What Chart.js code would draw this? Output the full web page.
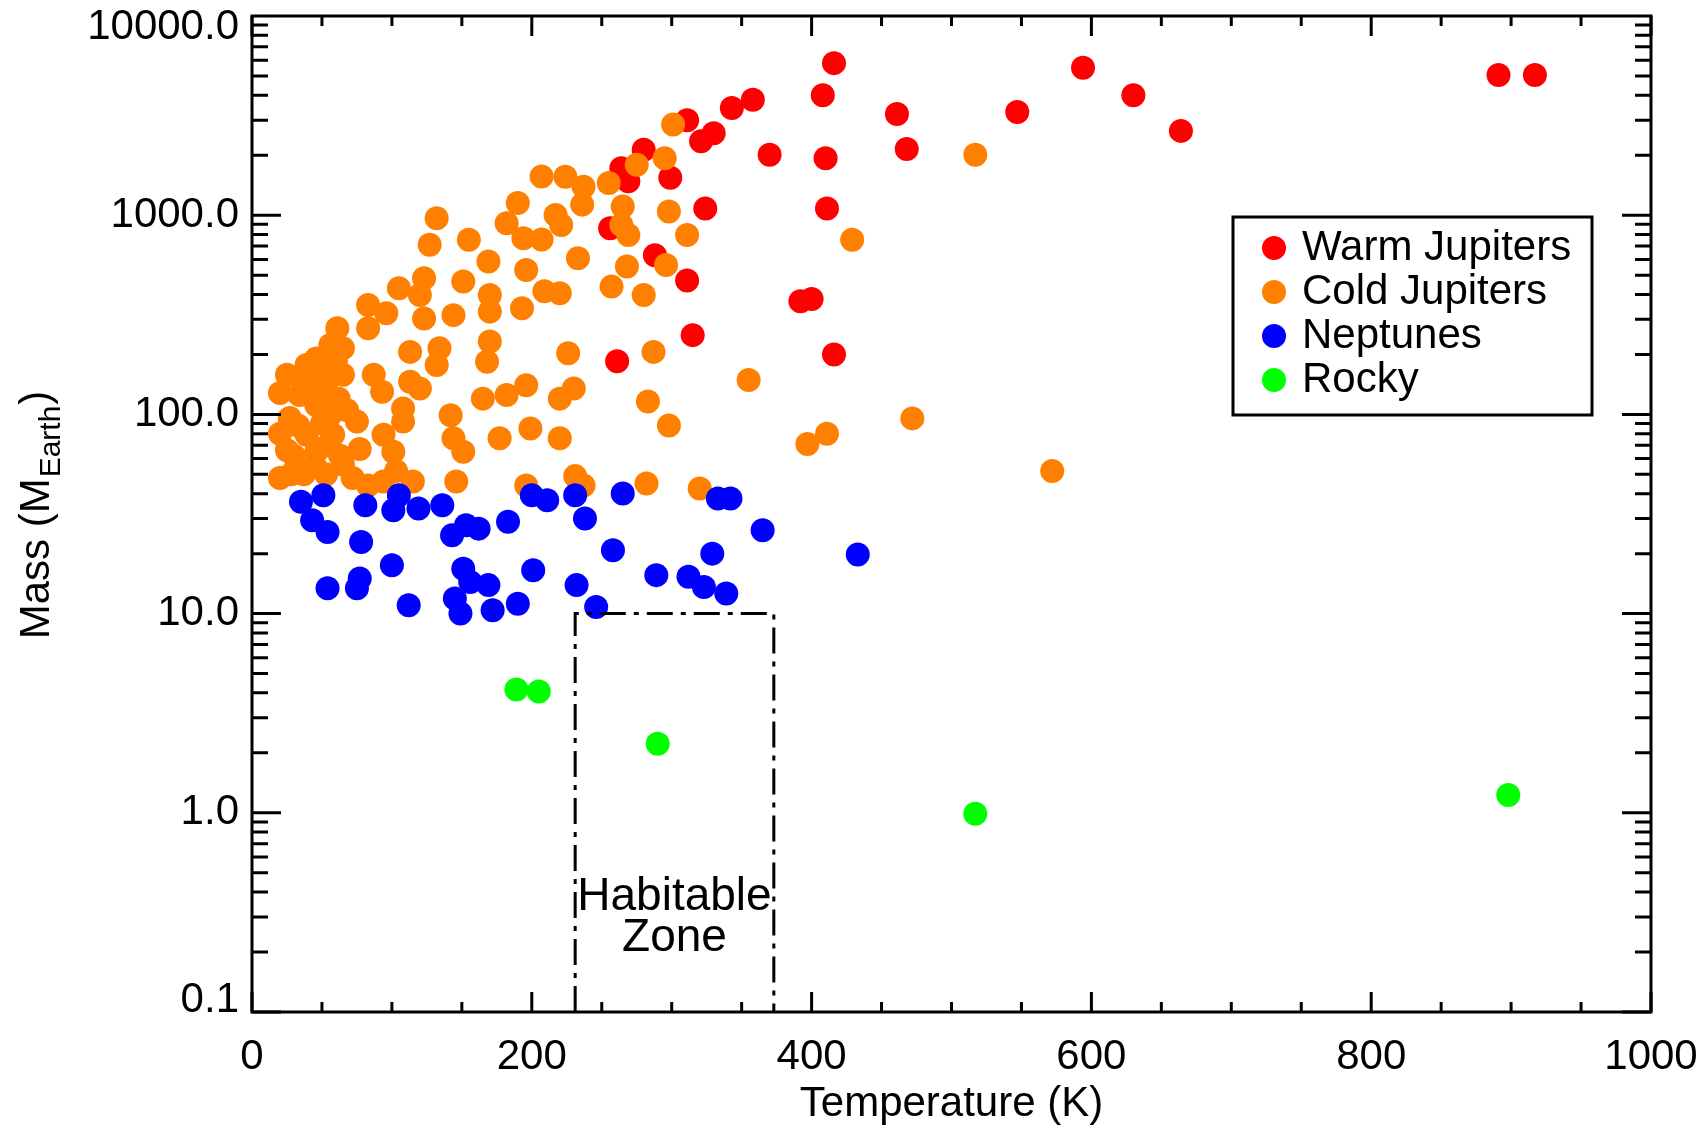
<!DOCTYPE html>
<html><head><meta charset="utf-8">
<script src="https://cdn.jsdelivr.net/npm/chart.js@4.4.0/dist/chart.umd.min.js"></script>
<style>html,body{margin:0;padding:0;background:#fff;}canvas{display:block;}</style>
</head><body>
<canvas id="c" width="1703" height="1130"></canvas>
<script>
// ---------------- data ----------------
const seriesNames = ['Warm Jupiters', 'Cold Jupiters', 'Neptunes', 'Rocky'];

const warmT = [416,408,358,343,311,321,330,280,264,269,299,370,410,324,411,256,288,311,392,400,315,261,416,461,468,547,594,630,664,891,917];
const warmM = [5800,4000,3800,3450,3000,2350,2580,2130,1720,1480,1540,2010,1930,1080,1080,860,630,470,370,380,250,185,200,3220,2150,3300,5500,4000,2650,5050,5050];

const coldT = [207,190,182,194,207,132,127,155,169,151,196,209,105,123,120,170,170,83,83,96,123,144,193,61,
  56,65,46,39,25,65,34,53,27,46,56,39,58,30,46,63,20,37,53,65,75,77,87,93,94,101,103,83,94,115,113,134,132,113,120,108,108,142,144,151,146,165,168,170,182,196,177,199,196,
  36,50,60,20,45,62,20,33,50,68,25,54,45,28,72,
  301,295,275,255,237,236,224,217,221,265,264,269,298,311,233,268,296,257,280,220,226,287,
  355,220,230,283,298,220,397,411,231,237,282,320,
  517,429,472,572];
const coldM = [1565,1150,912,766,755,966,710,752,585,465,531,415,430,482,398,398,328,354,271,322,303,315,341,271,
  223,215,191,177,158,158,125,135,96,111,99,79,79,62,65,62,48,50,50,56,92,67,158,130,79,65,52,44,46,46,206,215,177,146,135,107,92,99,76,65,46,120,184,232,125,140,76,85,44,
  150,165,185,128,138,120,80,88,90,105,66,70,55,50,48,
  2850,1930,1790,1450,1390,1130,1560,1003,894,1106,894,796,1044,796,608,552,562,438,398,406,203,206,
  149,120,135,116,88,76,71,80,49,44,45,42.5,
  2010,752,95.5,52];

const nepT = [35,51,43,54,81,78,105,101,119,136,143,153,162,183,200,211,100,54,77,75,112,151,156,169,145,149,172,190,201,231,238,265,258,232,246,289,312,323,339,329,333,342,365,433];
const nepM = [36.4,39.3,29.4,25.7,35.0,22.9,39.3,33.0,33.7,35.0,24.7,27.8,26.7,28.9,39.3,37.1,17.5,13.4,15.0,13.4,11.0,16.8,14.4,13.9,11.9,10.0,10.4,11.2,16.5,39.3,30.0,40.1,20.8,13.9,10.8,15.6,15.3,13.6,12.6,20.0,37.8,37.8,26.2,19.8];

const rockT = [189,205,290,517,898];
const rockM = [4.16,4.06,2.22,0.99,1.23];

// habitable zone box (temperature range 231-373 K, mass up to 10 M_Earth)
const hzT = [231, 231, 373, 373];
const hzM = [0.1, 10, 10, 0.1];
const hzLabel = ['Habitable', 'Zone'];

const xTickValues = [0, 200, 400, 600, 800, 1000];
const xTickLabels = ['0', '200', '400', '600', '800', '1000'];
const yTickValues = [0.1, 1, 10, 100, 1000, 10000];
const yTickLabels = ['0.1', '1.0', '10.0', '100.0', '1000.0', '10000.0'];

const xTitle = 'Temperature (K)';
const yTitleMain = 'Mass (M';
const yTitleSub = 'Earth';
const yTitleEnd = ')';

// ---------------- drawing ----------------
const FAM = "'Liberation Sans', Arial, Helvetica, sans-serif";
Chart.defaults.font.family = FAM;
Chart.defaults.color = '#000';

const toPts = (xs, ys) => xs.map((t, i) => ({x: t, y: ys[i]}));

const framePlugin = {
  id: 'frameTicks',
  afterDatasetsDraw(chart) {
    const {ctx, chartArea: a, scales: {x, y}} = chart;
    ctx.save();
    ctx.strokeStyle = '#000';
    ctx.lineWidth = 3;
    ctx.beginPath();
    for (let e = -1; e <= 3; e++) {
      for (let k = 1; k <= 9; k++) {
        const v = k * Math.pow(10, e);
        const py = y.getPixelForValue(v);
        const len = k === 1 ? 29 : 16;
        ctx.moveTo(a.left, py); ctx.lineTo(a.left + len, py);
        ctx.moveTo(a.right, py); ctx.lineTo(a.right - len, py);
      }
    }
    for (let v = 0; v <= 1000; v += 50) {
      const px = x.getPixelForValue(v);
      const len = v % 200 === 0 ? 20 : 10;
      ctx.moveTo(px, a.bottom); ctx.lineTo(px, a.bottom - len);
      ctx.moveTo(px, a.top); ctx.lineTo(px, a.top + len);
    }
    ctx.stroke();
    ctx.strokeRect(a.left, a.top, a.right - a.left, a.bottom - a.top);
    ctx.restore();
  }
};

const legendPlugin = {
  id: 'boxLegend',
  afterDraw(chart, args, o) {
    const ctx = chart.ctx;
    ctx.save();
    ctx.lineWidth = 3;
    ctx.strokeStyle = '#000';
    ctx.strokeRect(o.x, o.y, o.w, o.h);
    const items = chart.data.datasets.filter(d => d.inLegend);
    ctx.font = '42px ' + FAM;
    ctx.textBaseline = 'middle';
    ctx.textAlign = 'left';
    items.forEach((d, i) => {
      const cy = o.y + o.first + i * o.step;
      ctx.beginPath();
      ctx.arc(o.x + o.dotX, cy, o.r, 0, Math.PI * 2);
      ctx.fillStyle = d.backgroundColor;
      ctx.fill();
      ctx.fillStyle = '#000';
      ctx.fillText(d.label, o.x + o.textX, cy);
    });
    ctx.restore();
  }
};

const textPlugin = {
  id: 'texts',
  afterDraw(chart, args, o) {
    const {ctx, scales: {x, y}} = chart;
    ctx.save();
    ctx.fillStyle = '#000';
    // Habitable zone label
    ctx.font = '46px ' + FAM;
    ctx.textAlign = 'center';
    ctx.textBaseline = 'middle';
    ctx.fillText(hzLabel[0], x.getPixelForValue(o.hzX), y.getPixelForValue(o.hzY[0]));
    ctx.fillText(hzLabel[1], x.getPixelForValue(o.hzX), y.getPixelForValue(o.hzY[1]));
    // Y axis title with subscript
    ctx.textAlign = 'left';
    ctx.textBaseline = 'alphabetic';
    const big = '42px ' + FAM, small = '30px ' + FAM;
    ctx.font = big; const w1 = ctx.measureText(yTitleMain).width; const w3 = ctx.measureText(yTitleEnd).width;
    ctx.font = small; const w2 = ctx.measureText(yTitleSub).width;
    const total = w1 + w2 + w3 + 2;
    ctx.translate(o.yTitleX, o.yTitleY);
    ctx.rotate(-Math.PI / 2);
    let sx = -total / 2;
    ctx.font = big; ctx.fillText(yTitleMain, sx, 0); sx += w1 + 1;
    ctx.font = small; ctx.fillText(yTitleSub, sx, 11); sx += w2 + 1;
    ctx.font = big; ctx.fillText(yTitleEnd, sx, 0);
    ctx.restore();
  }
};

const pt = {pointRadius: 12, pointHoverRadius: 12, borderWidth: 0, pointBorderWidth: 0};

// end labels of the y axis sit slightly inside the frame (as in the original plot)
const yLabelFor = (i) => {
  const s = yTickLabels[i];
  if (i === 0) return [s, ''];
  if (i === yTickLabels.length - 1) return ['', s];
  return s;
};

new Chart(document.getElementById('c'), {
  type: 'scatter',
  data: {
    datasets: [
      Object.assign({label: seriesNames[0], data: toPts(warmT, warmM), backgroundColor: '#ff0000', borderColor: '#ff0000', order: 4, inLegend: true}, pt),
      Object.assign({label: seriesNames[1], data: toPts(coldT, coldM), backgroundColor: '#ff8000', borderColor: '#ff8000', order: 3, inLegend: true}, pt),
      Object.assign({label: seriesNames[2], data: toPts(nepT, nepM), backgroundColor: '#0000ff', borderColor: '#0000ff', order: 2, inLegend: true}, pt),
      Object.assign({label: seriesNames[3], data: toPts(rockT, rockM), backgroundColor: '#00ff00', borderColor: '#00ff00', order: 1, inLegend: true}, pt),
      {type: 'line', label: 'Habitable Zone', data: toPts(hzT, hzM), borderColor: '#000', borderWidth: 3,
       borderDash: [26, 8, 5, 8], pointRadius: 0, fill: false, showLine: true, tension: 0, order: 0, clip: false}
    ]
  },
  options: {
    responsive: false,
    animation: false,
    events: [],
    layout: {padding: {top: 16, right: 52, left: 0, bottom: 0}},
    plugins: {
      legend: {display: false},
      tooltip: {enabled: false},
      boxLegend: {x: 1233, y: 217, w: 359, h: 198, first: 31, step: 44, dotX: 41, textX: 69, r: 12},
      texts: {hzX: 302, hzY: [0.375, 0.235], yTitleX: 49, yTitleY: 515}
    },
    scales: {
      x: {
        type: 'linear', position: 'bottom', min: 0, max: 1000,
        afterBuildTicks: s => { s.ticks = xTickValues.map(v => ({value: v})); },
        afterFit: s => { s.height = 118; s.paddingLeft = 0; s.paddingRight = 0; },
        grid: {display: false, drawTicks: false},
        border: {display: false},
        ticks: {autoSkip: false, maxRotation: 0, padding: 20, font: {size: 42}, color: '#000',
                callback: (v, i) => xTickLabels[i]},
        title: {display: true, text: xTitle, font: {size: 42}, color: '#000', padding: {top: 0, bottom: 0}}
      },
      y: {
        type: 'logarithmic', position: 'left', min: 0.1, max: 10000,
        afterBuildTicks: s => { s.ticks = yTickValues.map(v => ({value: v})); },
        afterFit: s => { s.width = 252; s.paddingTop = 0; s.paddingBottom = 0; },
        grid: {display: false, drawTicks: false},
        border: {display: false},
        ticks: {autoSkip: false, padding: 13, font: {size: 42, lineHeight: 0.55}, color: '#000',
                callback: (v, i) => yLabelFor(i)}
      }
    }
  },
  plugins: [framePlugin, legendPlugin, textPlugin]
});
</script>
</body></html>
